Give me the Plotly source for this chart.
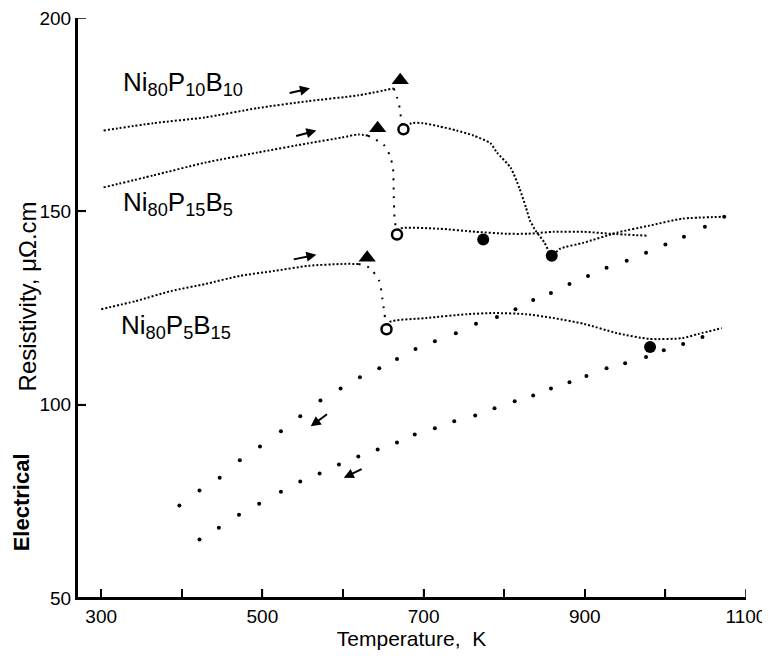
import plotly.graph_objects as go

# ---------------- data (temperature K, resistivity micro-ohm cm) ----------------
# Ni80P10B10
p10_heat_T = [303, 365, 429, 494, 557, 619, 663]
p10_heat_R = [170.9, 172.8, 174.3, 176.7, 178.5, 180.0, 181.8]
p10_drop_T = [663, 667, 671, 672, 675]
p10_drop_R = [181.8, 179.5, 176.1, 173.8, 171.2]
p10_post_T = [675, 685, 699, 719, 741, 762, 783, 791, 808, 819, 827, 832, 839, 850, 859,
              869, 899, 940, 980, 1021, 1074]
p10_post_R = [171.2, 172.8, 172.8, 172.0, 170.9, 169.6, 167.6, 165.2, 161.3, 155.9, 151.0,
              147.6, 145.0, 141.9, 138.5, 140.3, 141.9, 144.5, 146.3, 148.1, 148.6]

# Ni80P15B5
p15_heat_T = [303, 365, 429, 494, 557, 599, 619, 631]
p15_heat_R = [156.2, 159.3, 162.6, 165.2, 167.6, 169.1, 169.9, 169.6]
p15_drop_T = [631, 651, 658, 662, 663, 664, 667]
p15_drop_R = [169.6, 167.1, 164.5, 161.3, 154.1, 148.1, 144.0]
p15_post_T = [667, 670, 719, 765, 803, 830, 861, 899, 932, 977]
p15_post_R = [144.0, 145.5, 145.5, 144.7, 144.2, 144.2, 144.7, 144.7, 144.2, 143.7]

# Ni80P5B15
p5_heat_T = [300, 343, 387, 429, 472, 515, 557, 599, 619]
p5_heat_R = [124.7, 126.8, 129.4, 131.2, 133.3, 134.6, 135.9, 136.4, 136.4]
p5_drop_T = [619, 633, 645, 649, 651, 654]
p5_drop_R = [136.4, 135.4, 132.0, 127.3, 124.2, 119.5]
p5_post_T = [654, 658, 703, 754, 788, 827, 861, 899, 940, 980, 1021, 1041, 1070]
p5_post_R = [119.5, 121.4, 122.4, 123.4, 123.7, 123.4, 122.4, 120.9, 118.5, 117.0, 117.2,
             118.3, 119.8]

# cooling runs (sparse dots)
cool1_T = [397, 422, 447, 472, 497, 523, 547, 572, 597, 621, 645, 667, 690, 714, 740, 765,
           791, 814, 836, 858, 881, 904, 927, 952, 976, 1000, 1023, 1049, 1073]
cool1_R = [73.9, 77.8, 81.1, 85.6, 89.2, 93.1, 97.0, 101.1, 104.2, 107.1, 109.4, 111.8,
           114.4, 116.4, 118.5, 120.9, 122.7, 124.7, 127.1, 128.9, 131.2, 133.3, 135.4,
           137.2, 139.3, 141.4, 143.4, 146.0, 148.6]
cool2_T = [422, 446, 471, 496, 523, 547, 571, 595, 619, 643, 667, 689, 714, 738, 764, 788,
           813, 836, 858, 881, 902, 927, 950, 976, 998, 1022, 1046]
cool2_R = [65.1, 68.2, 71.5, 74.4, 77.5, 80.1, 82.2, 84.5, 86.6, 88.4, 90.2, 92.3, 93.9,
           95.7, 97.2, 99.1, 100.9, 102.4, 104.2, 105.8, 107.4, 109.4, 110.7, 112.3, 114.1,
           115.7, 117.5]

# special points
peak_T = [671, 643, 630]
peak_R = [183.9, 171.5, 138.0]
onset_T = [675, 667, 654]
onset_R = [171.2, 144.0, 119.5]
end_T = [859, 774, 981]
end_R = [138.5, 142.7, 114.9]

# labels
alloy_labels = ["Ni<sub>80</sub>P<sub>10</sub>B<sub>10</sub>",
                "Ni<sub>80</sub>P<sub>15</sub>B<sub>5</sub>",
                "Ni<sub>80</sub>P<sub>5</sub>B<sub>15</sub>"]
label_T = [325, 324, 322]
label_R = [183.0, 152.0, 120.3]

# arrows: tail (T, R) -> head (T, R)
arrow_tail_T = [532, 540, 537, 582, 625]
arrow_tail_R = [180.5, 169.4, 137.5, 97.8, 83.5]
arrow_head_T = [559, 567, 567, 560, 601]
arrow_head_R = [181.8, 170.9, 138.8, 94.4, 81.1]

x_tick_vals = [300, 400, 500, 600, 700, 800, 900, 1000, 1100]
x_tick_text = ["300", "", "500", "", "700", "", "900", "", "1100"]
y_tick_vals = [50, 100, 150, 200]

FONT = "Liberation Sans"

fig = go.Figure()

dense = dict(color="black", width=2, dash="2px,2px")
sparse = dict(color="black", width=2, dash="2px,7px")

for T, R, ln in [
    (p10_heat_T, p10_heat_R, dense), (p10_drop_T, p10_drop_R, sparse), (p10_post_T, p10_post_R, dense),
    (p15_heat_T, p15_heat_R, dense), (p15_drop_T, p15_drop_R, sparse), (p15_post_T, p15_post_R, dense),
    (p5_heat_T, p5_heat_R, dense), (p5_drop_T, p5_drop_R, sparse), (p5_post_T, p5_post_R, dense),
]:
    fig.add_trace(go.Scatter(x=T, y=R, mode="lines", line=dict(ln, shape="spline", smoothing=0.6),
                             showlegend=False, hoverinfo="skip"))

for T, R in [(cool1_T, cool1_R), (cool2_T, cool2_R)]:
    fig.add_trace(go.Scatter(x=T, y=R, mode="markers",
                             marker=dict(color="black", size=4, symbol="circle"),
                             showlegend=False, hoverinfo="skip"))

fig.add_trace(go.Scatter(x=peak_T, y=peak_R, mode="markers",
                         marker=dict(symbol="triangle-up", size=15, color="black"),
                         showlegend=False, hoverinfo="skip"))
fig.add_trace(go.Scatter(x=onset_T, y=onset_R, mode="markers",
                         marker=dict(symbol="circle", size=10, color="white",
                                     line=dict(color="black", width=2.5)),
                         showlegend=False, hoverinfo="skip"))
fig.add_trace(go.Scatter(x=end_T, y=end_R, mode="markers",
                         marker=dict(symbol="circle", size=12, color="black"),
                         showlegend=False, hoverinfo="skip"))

annotations = []
for txt, t, r in zip(alloy_labels, label_T, label_R):
    annotations.append(dict(x=t, y=r, xref="x", yref="y", text=txt, showarrow=False,
                            xanchor="left", yanchor="middle",
                            font=dict(family=FONT, size=26, color="black")))
for tt, tr, ht, hr in zip(arrow_tail_T, arrow_tail_R, arrow_head_T, arrow_head_R):
    annotations.append(dict(x=ht, y=hr, ax=tt, ay=tr, xref="x", yref="y", axref="x", ayref="y",
                            text="", showarrow=True, arrowhead=2, arrowsize=1,
                            arrowwidth=2, arrowcolor="black"))

annotations.append(dict(x=0, y=0.165, xref="paper", yref="paper", xshift=-56,
                        text="<b>Electrical</b>", textangle=-90, showarrow=False,
                        xanchor="center", yanchor="middle",
                        font=dict(family=FONT, size=22, color="black")))
annotations.append(dict(x=0, y=0.52, xref="paper", yref="paper", xshift=-50,
                        text="Resistivity, μΩ.cm", textangle=-90, showarrow=False,
                        xanchor="center", yanchor="middle",
                        font=dict(family=FONT, size=24, color="black")))

# axis frame lines and tick marks as layout shapes (drawn above the plot)
shapes = [
    dict(type="line", xref="paper", yref="paper", x0=0, x1=0, y0=0, y1=1,
         line=dict(color="black", width=2), layer="above"),
    dict(type="line", xref="paper", yref="paper", x0=0, x1=1, y0=0, y1=0,
         line=dict(color="black", width=2), layer="above"),
]
for tv in x_tick_vals:
    shapes.append(dict(type="line", xref="x", yref="paper", ysizemode="pixel", yanchor=0,
                       x0=tv, x1=tv, y0=0, y1=9, line=dict(color="black", width=1.5),
                       layer="above"))
for tv in y_tick_vals:
    shapes.append(dict(type="line", xref="paper", yref="y", xsizemode="pixel", xanchor=0,
                       x0=0, x1=9, y0=tv, y1=tv, line=dict(color="black", width=1.5),
                       layer="above"))

# margins allow for the page's default 8px body margin
fig.update_layout(
    width=770, height=659,
    margin=dict(l=69, r=32, t=10, b=69),
    paper_bgcolor="white", plot_bgcolor="white",
    font=dict(family=FONT, color="black"),
    annotations=annotations,
    shapes=shapes,
    xaxis=dict(range=[270, 1100], showgrid=False, zeroline=False, automargin=False,
               showline=True, linecolor="black", linewidth=2,
               ticks="inside", ticklen=9, tickwidth=1.5, tickcolor="black",
               tickvals=x_tick_vals, ticktext=x_tick_text,
               ticklabeloverflow="allow",
               tickfont=dict(family=FONT, size=19, color="black"),
               title=dict(text="Temperature,  K", standoff=2,
                          font=dict(family=FONT, size=21, color="black"))),
    yaxis=dict(range=[50, 200], showgrid=False, zeroline=False, automargin=False,
               showline=True, linecolor="black", linewidth=2,
               ticks="inside", ticklen=9, tickwidth=1.5, tickcolor="black",
               tickvals=y_tick_vals, ticklabeloverflow="allow",
               tickfont=dict(family=FONT, size=19, color="black")),
)

fig.write_html("out.html")
